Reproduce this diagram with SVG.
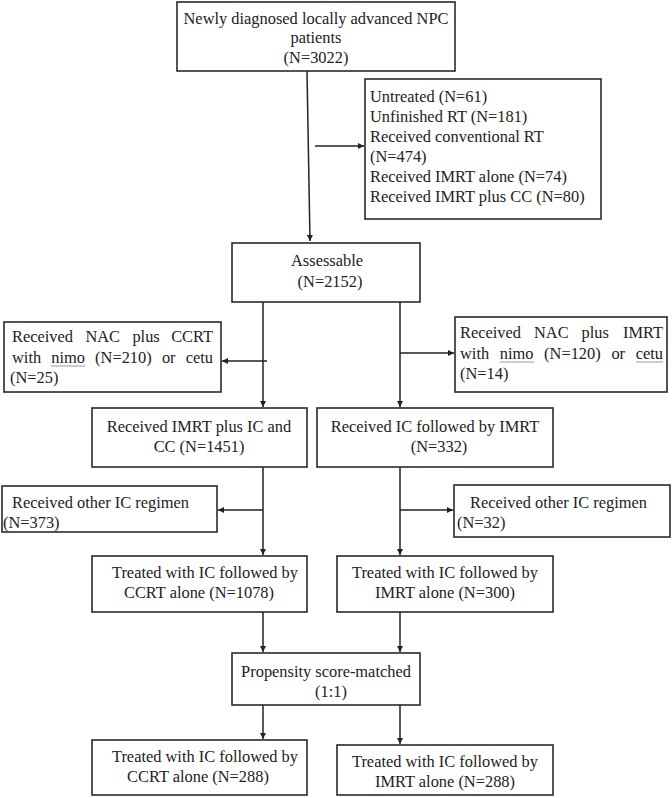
<svg xmlns="http://www.w3.org/2000/svg" width="672" height="798" viewBox="0 0 672 798">
<defs>
<marker id="ah" viewBox="0 0 10 10" refX="10" refY="5" markerWidth="7" markerHeight="6" markerUnits="userSpaceOnUse" orient="auto">
<path d="M0,0 L10,5 L0,10 z" fill="#222"/>
</marker>
<style>
rect{fill:#fff;stroke:#2a2a2a;stroke-width:1.6}
text{font-family:"Liberation Serif","Times New Roman",serif;font-size:16.4px;fill:#222}
.c{text-anchor:middle}
#connectors line{stroke:#222;stroke-width:1.5;fill:none}
.ul{stroke:#9a9a9a;stroke-width:1}
</style>
</defs>
<rect width="672" height="798" style="fill:#fff;stroke:none"/>

<g id="connectors">
<line x1="307" y1="71" x2="310" y2="241" marker-end="url(#ah)"/>
<line x1="315" y1="146" x2="364" y2="146" marker-end="url(#ah)"/>
<line x1="263" y1="302" x2="263" y2="407" marker-end="url(#ah)"/>
<line x1="267" y1="361" x2="222" y2="361" marker-end="url(#ah)"/>
<line x1="400" y1="302" x2="400" y2="407" marker-end="url(#ah)"/>
<line x1="400" y1="353" x2="454" y2="353" marker-end="url(#ah)"/>
<line x1="263" y1="467" x2="263" y2="555" marker-end="url(#ah)"/>
<line x1="263" y1="510" x2="218" y2="510" marker-end="url(#ah)"/>
<line x1="400" y1="467" x2="400" y2="555" marker-end="url(#ah)"/>
<line x1="400" y1="510" x2="453" y2="510" marker-end="url(#ah)"/>
<line x1="263" y1="612" x2="263" y2="652" marker-end="url(#ah)"/>
<line x1="400" y1="612" x2="400" y2="652" marker-end="url(#ah)"/>
<line x1="263" y1="705" x2="263" y2="739" marker-end="url(#ah)"/>
<line x1="400" y1="705" x2="400" y2="744" marker-end="url(#ah)"/>
</g>

<g id="n_top">
<rect x="177" y="2" width="278" height="69"/>
<text class="c" x="316" y="24">Newly diagnosed locally advanced NPC</text>
<text class="c" x="316" y="43">patients</text>
<text class="c" x="316" y="63">(N=3022)</text>
</g>

<g id="n_excluded">
<rect x="365" y="79" width="236" height="140"/>
<text x="370" y="102">Untreated (N=61)</text>
<text x="370" y="122">Unfinished RT (N=181)</text>
<text x="370" y="142">Received conventional RT</text>
<text x="370" y="162">(N=474)</text>
<text x="370" y="182">Received IMRT alone (N=74)</text>
<text x="370" y="202">Received IMRT plus CC (N=80)</text>
</g>

<g id="n_assessable">
<rect x="232" y="243" width="188" height="59"/>
<text class="c" x="327" y="266">Assessable</text>
<text class="c" x="330" y="287">(N=2152)</text>
</g>

<g id="n_nac_left">
<rect x="4" y="322" width="217" height="70"/>
<text y="342"><tspan x="12">Received</tspan><tspan x="85.4">NAC</tspan><tspan x="132.4">plus</tspan><tspan x="213" text-anchor="end">CCRT</tspan></text>
<text y="363"><tspan x="12">with</tspan><tspan x="51.3">nimo</tspan><tspan x="95.1">(N=210)</tspan><tspan x="161.9">or</tspan><tspan x="213" text-anchor="end">cetu</tspan></text>
<text x="10" y="383">(N=25)</text>
<line class="ul" x1="51" y1="366" x2="85" y2="366"/>
</g>

<g id="n_nac_right">
<rect x="455" y="317" width="212" height="75"/>
<text y="338"><tspan x="460">Received</tspan><tspan x="534">NAC</tspan><tspan x="581.6">plus</tspan><tspan x="663" text-anchor="end">IMRT</tspan></text>
<text y="359"><tspan x="460">with</tspan><tspan x="499.8">nimo</tspan><tspan x="544.1">(N=120)</tspan><tspan x="611.4">or</tspan><tspan x="663" text-anchor="end">cetu</tspan></text>
<text x="460" y="379">(N=14)</text>
<line class="ul" x1="500" y1="362" x2="534" y2="362"/>
<line class="ul" x1="636" y1="362" x2="663" y2="362"/>
</g>

<g id="n_imrt_ic_cc">
<rect x="92" y="408" width="215" height="59"/>
<text class="c" x="199" y="432">Received IMRT plus IC and</text>
<text class="c" x="199" y="452">CC (N=1451)</text>
</g>

<g id="n_ic_imrt">
<rect x="317" y="408" width="236" height="59"/>
<text class="c" x="435" y="432">Received IC followed by IMRT</text>
<text class="c" x="439" y="452">(N=332)</text>
</g>

<g id="n_other_left">
<rect x="2" y="486" width="215" height="46"/>
<text x="12" y="508">Received other IC regimen</text>
<text x="3" y="528">(N=373)</text>
</g>

<g id="n_other_right">
<rect x="454" y="485" width="216" height="52"/>
<text x="470" y="508">Received other IC regimen</text>
<text x="457" y="528">(N=32)</text>
</g>

<g id="n_treated_ccrt">
<rect x="92" y="556" width="215" height="56"/>
<text class="c" x="205" y="578">Treated with IC followed by</text>
<text class="c" x="199" y="598">CCRT alone (N=1078)</text>
</g>

<g id="n_treated_imrt">
<rect x="337" y="556" width="216" height="56"/>
<text class="c" x="445" y="578">Treated with IC followed by</text>
<text class="c" x="445" y="598">IMRT alone (N=300)</text>
</g>

<g id="n_psm">
<rect x="232" y="653" width="188" height="52"/>
<text class="c" x="326" y="677">Propensity score-matched</text>
<text class="c" x="331" y="697">(1:1)</text>
</g>

<g id="n_final_ccrt">
<rect x="92" y="740" width="215" height="55"/>
<text class="c" x="205" y="762">Treated with IC followed by</text>
<text class="c" x="198" y="782">CCRT alone (N=288)</text>
</g>

<g id="n_final_imrt">
<rect x="337" y="745" width="216" height="50"/>
<text class="c" x="445" y="767">Treated with IC followed by</text>
<text class="c" x="445" y="787">IMRT alone (N=288)</text>
</g>
</svg>
